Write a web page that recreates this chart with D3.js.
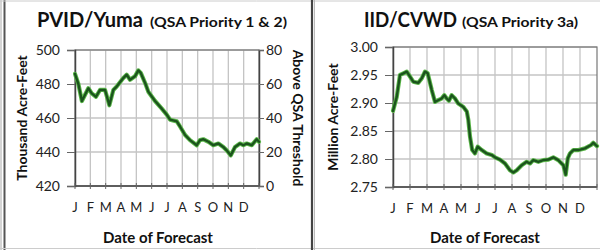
<!DOCTYPE html>
<html>
<head>
<meta charset="utf-8">
<script src="https://cdn.jsdelivr.net/npm/d3@7"></script>
<style>
  html, body { margin: 0; padding: 0; background: #fff; }
  svg { display: block; font-family: Lato, "Open Sans", sans-serif; }
</style>
</head>
<body>
<svg id="chart" width="600" height="250"></svg>
<script>
const monthLabels = ["J", "F", "M", "A", "M", "J", "J", "A", "S", "O", "N", "D"]

// PVID/Yuma, month position (0 = Jan 1, 12 = Dec 31) and thousand acre-feet
const pvidMonth = [0, 0.22, 0.45, 0.87, 1.09, 1.37, 1.63, 1.96, 2.24, 2.5, 2.72, 3.15, 3.37, 3.59, 3.91, 4.13, 4.29, 4.6, 4.78, 5.22, 5.66, 5.98, 6.2, 6.64, 6.85, 7.18, 7.5, 7.94, 8.15, 8.37, 8.7, 9.02, 9.35, 9.67, 9.89, 10.16, 10.44, 10.76, 10.98, 11.2, 11.53, 11.85, 12]
const pvidValue = [486, 480, 470, 477.5, 474.5, 472.5, 476.5, 476.5, 467.5, 476.5, 478.5, 483.5, 485.5, 482.5, 484.5, 488, 486.5, 480, 475.5, 470, 465.5, 462, 459, 458, 455, 450, 447, 444, 447, 447.5, 446, 444, 445, 443, 441, 438, 443, 445, 444, 445, 444, 447.5, 446]
const pvidTicks = [420, 440, 460, 480, 500]
const qsaTicks = [0, 20, 40, 60, 80]

// IID/CVWD, million acre-feet
const iidMonth = [0, 0.22, 0.41, 0.61, 0.81, 1, 1.19, 1.49, 1.69, 1.88, 2.04, 2.28, 2.47, 2.66, 2.86, 3.02, 3.16, 3.29, 3.45, 3.65, 3.84, 4.14, 4.34, 4.43, 4.53, 4.66, 4.82, 4.98, 5.22, 5.51, 5.81, 6, 6.29, 6.59, 6.88, 7.08, 7.28, 7.57, 7.86, 8.06, 8.25, 8.55, 8.84, 9.14, 9.43, 9.72, 10.02, 10.16, 10.28, 10.41, 10.61, 10.91, 11.29, 11.65, 11.78, 12]
const iidValue = [2.886, 2.911, 2.95, 2.953, 2.956, 2.947, 2.938, 2.936, 2.944, 2.956, 2.953, 2.923, 2.902, 2.905, 2.908, 2.914, 2.908, 2.904, 2.914, 2.908, 2.899, 2.893, 2.885, 2.87, 2.84, 2.816, 2.81, 2.822, 2.816, 2.81, 2.807, 2.803, 2.799, 2.792, 2.78, 2.776, 2.78, 2.789, 2.795, 2.792, 2.798, 2.795, 2.798, 2.799, 2.803, 2.798, 2.789, 2.772, 2.801, 2.81, 2.816, 2.816, 2.819, 2.825, 2.829, 2.823]
const iidTicks = [2.75, 2.80, 2.85, 2.90, 2.95, 3.00]

const svg = d3.select("#chart")

// frame lines around / between the two panels
svg.append("line").attr("x1", 1).attr("x2", 1).attr("y1", 0).attr("y2", 250)
  .attr("stroke", "#aaa").attr("stroke-width", 1)
svg.append("line").attr("x1", 4.5).attr("x2", 4.5).attr("y1", 0).attr("y2", 250)
  .attr("stroke", "#555").attr("stroke-width", 2)
svg.append("line").attr("x1", 0).attr("x2", 600).attr("y1", 1).attr("y2", 1)
  .attr("stroke", "#ccc").attr("stroke-width", 1)
svg.append("line").attr("x1", 0).attr("x2", 600).attr("y1", 248.5).attr("y2", 248.5)
  .attr("stroke", "#ccc").attr("stroke-width", 1)
svg.append("line").attr("x1", 312).attr("x2", 312).attr("y1", 0).attr("y2", 250)
  .attr("stroke", "#444").attr("stroke-width", 2.2)
svg.append("line").attr("x1", 314.5).attr("x2", 314.5).attr("y1", 0).attr("y2", 250)
  .attr("stroke", "#bbb").attr("stroke-width", 1)

function drawPanel(p){
  const x = d3.scaleLinear().domain([0, 12]).range([p.left, p.right])
  const y = d3.scaleLinear().domain(d3.extent(p.ticks)).range([p.bottom, p.top])
  const g = svg.append("g")

  // grid
  g.append("g").selectAll("line").data(d3.range(1, 12)).join("line")
    .attr("x1", d => x(d)).attr("x2", d => x(d))
    .attr("y1", p.top).attr("y2", p.bottom)
    .attr("stroke", "#c4c4c4").attr("stroke-width", 1.3)
  g.append("g").selectAll("line").data(p.ticks.slice(1)).join("line")
    .attr("x1", p.left).attr("x2", p.right)
    .attr("y1", d => y(d)).attr("y2", d => y(d))
    .attr("stroke", "#c4c4c4").attr("stroke-width", 1.3)

  // plot frame
  g.append("rect")
    .attr("x", p.left).attr("y", p.top)
    .attr("width", p.right - p.left).attr("height", p.bottom - p.top)
    .attr("fill", "none").attr("stroke", "#777").attr("stroke-width", 1.2)

  // left axis
  g.append("g")
    .attr("transform", `translate(${p.left},0)`)
    .call(d3.axisLeft(y).tickValues(p.ticks).tickFormat(p.format).tickSize(8).tickPadding(7))
    .call(a => a.select(".domain").attr("stroke", "#444").attr("stroke-width", 1.5))
    .call(a => a.selectAll(".tick line").attr("stroke", "#666"))
    .call(a => a.selectAll("text").attr("font-family", "Lato, sans-serif")
      .attr("font-size", 14).attr("fill", "#222"))

  // secondary axis
  if (p.ticks2) {
    const y2 = d3.scaleLinear().domain(d3.extent(p.ticks2)).range([p.bottom, p.top])
    g.append("g")
      .attr("transform", `translate(${p.right},0)`)
      .call(d3.axisRight(y2).tickValues(p.ticks2).tickSize(5).tickPadding(2))
      .call(a => a.select(".domain").attr("stroke", "#444").attr("stroke-width", 1.5))
      .call(a => a.selectAll(".tick line").attr("stroke", "#666"))
      .call(a => a.selectAll("text").attr("font-family", "Lato, sans-serif")
        .attr("font-size", 14).attr("fill", "#222"))
  }

  // bottom axis with crossing ticks
  g.append("line").attr("x1", p.left).attr("x2", p.right)
    .attr("y1", p.bottom).attr("y2", p.bottom)
    .attr("stroke", "#444").attr("stroke-width", 1.5)
  g.append("g").selectAll("line").data(d3.range(0, 13)).join("line")
    .attr("x1", d => x(d)).attr("x2", d => x(d))
    .attr("y1", p.bottom - 3).attr("y2", p.bottom + 3)
    .attr("stroke", "#666")
  g.append("g").selectAll("text").data(monthLabels).join("text")
    .attr("x", (d, i) => x(i)).attr("y", p.bottom + 26)
    .attr("text-anchor", "middle").attr("font-size", 13).attr("fill", "#222")
    .text(d => d)

  // series
  const pts = p.months.map((m, i) => [m, p.values[i]])
  const line = d3.line().x(d => x(d[0])).y(d => y(d[1]))
  g.append("path").datum(pts)
    .attr("fill", "none").attr("stroke", "#5cb84a").attr("stroke-width", 4.2)
    .attr("stroke-linejoin", "round").attr("stroke-linecap", "round")
    .attr("d", line)
  g.append("path").datum(pts)
    .attr("fill", "none").attr("stroke", "#1b541d").attr("stroke-width", 2.4)
    .attr("stroke-linejoin", "round").attr("stroke-linecap", "round")
    .attr("d", line)

  // titles
  g.append("text").attr("x", p.titleX).attr("y", 27).attr("fill", "#111")
    .attr("font-size", 20).attr("font-weight", 700)
    .attr("textLength", p.titleW).attr("lengthAdjust", "spacingAndGlyphs")
    .text(p.title)
  g.append("text").attr("x", p.subX).attr("y", 27).attr("fill", "#111")
    .attr("font-size", 13.5).attr("font-weight", 700)
    .attr("textLength", p.subW).attr("lengthAdjust", "spacingAndGlyphs")
    .text(p.subtitle)

  g.append("text")
    .attr("transform", `translate(${p.yTitleX},${(p.top + p.bottom) / 2}) rotate(-90)`)
    .attr("text-anchor", "middle").attr("font-size", 14).attr("font-weight", 700)
    .attr("fill", "#111").text(p.yTitle)
  if (p.y2Title) {
    g.append("text")
      .attr("transform", `translate(${p.y2TitleX},${(p.top + p.bottom) / 2}) rotate(90)`)
      .attr("text-anchor", "middle").attr("font-size", 14).attr("font-weight", 700)
      .attr("fill", "#111").text(p.y2Title)
  }
  g.append("text")
    .attr("x", p.xTitleX).attr("y", 243)
    .attr("text-anchor", "middle").attr("font-size", 15).attr("font-weight", 700)
    .attr("fill", "#111").text("Date of Forecast")
}

drawPanel({
  left: 75, right: 259, top: 50, bottom: 186,
  ticks: pvidTicks, ticks2: qsaTicks, format: d3.format("d"),
  months: pvidMonth, values: pvidValue,
  title: "PVID/Yuma", subtitle: "(QSA Priority 1 & 2)",
  titleX: 37, titleW: 106, subX: 150, subW: 137,
  yTitle: "Thousand Acre-Feet", yTitleX: 27,
  y2Title: "Above QSA Threshold", y2TitleX: 293,
  xTitleX: 158
})

drawPanel({
  left: 393, right: 597, top: 47, bottom: 187,
  ticks: iidTicks, format: d3.format(".2f"),
  months: iidMonth, values: iidValue,
  title: "IID/CVWD", subtitle: "(QSA Priority 3a)",
  titleX: 364, titleW: 93, subX: 462, subW: 116,
  yTitle: "Million Acre-Feet", yTitleX: 338,
  xTitleX: 485
})
</script>
</body>
</html>
